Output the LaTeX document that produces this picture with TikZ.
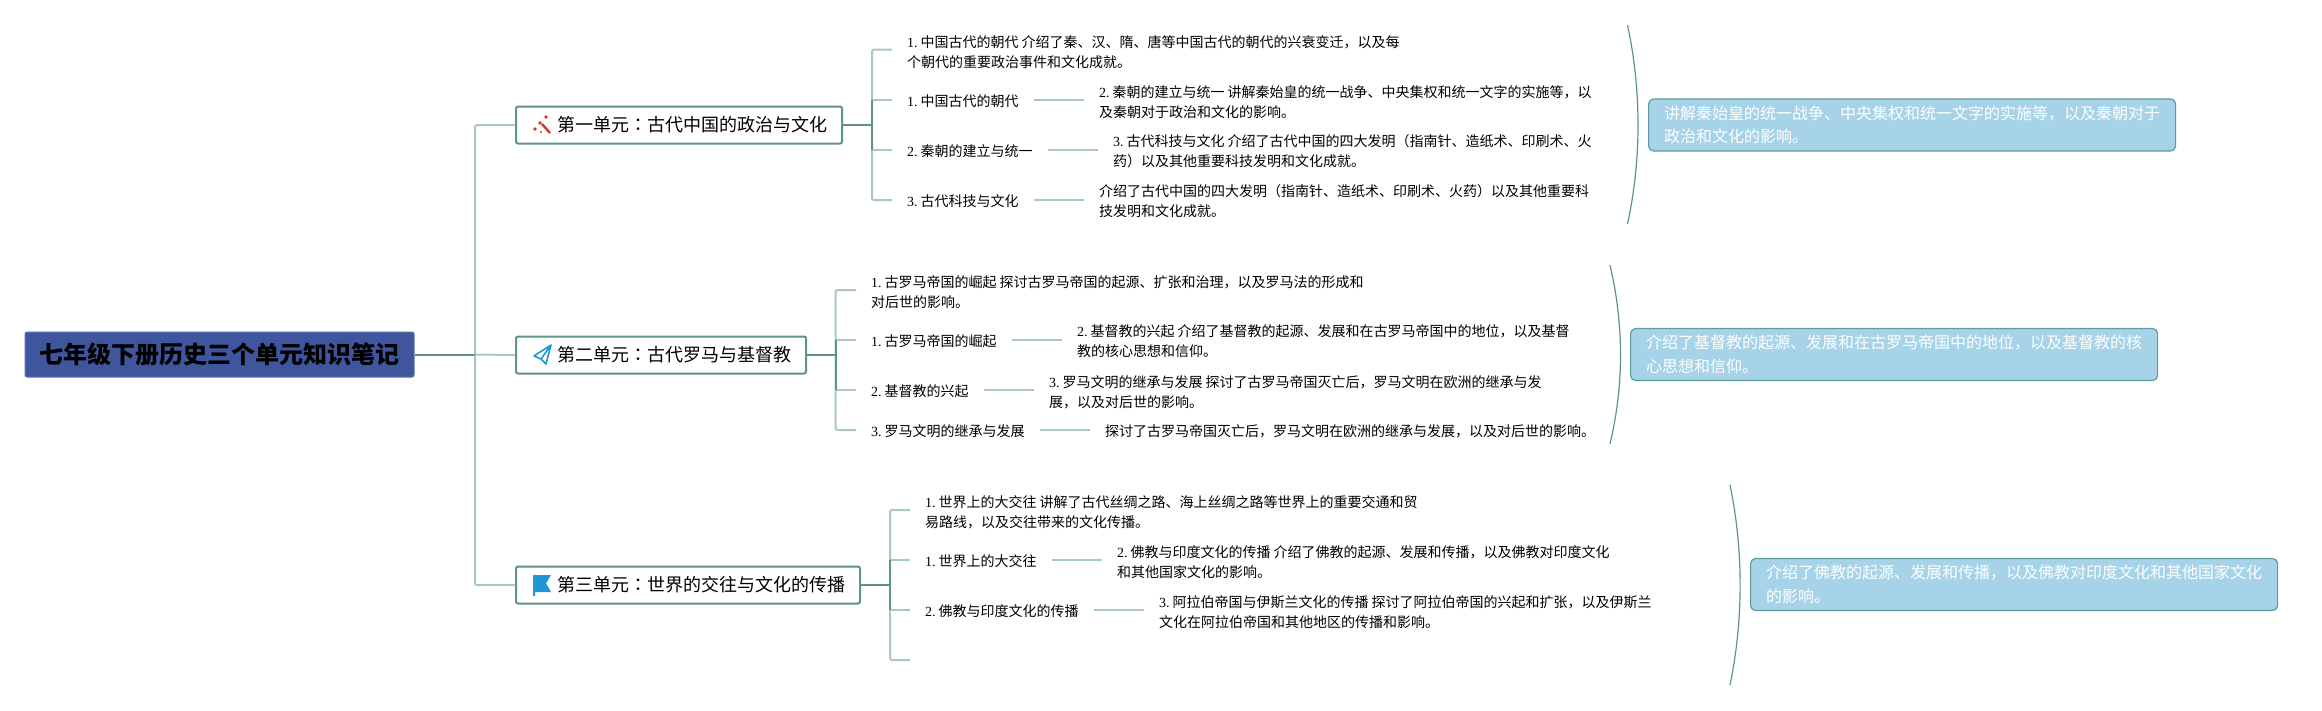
\documentclass[tikz,border=0pt]{standalone}
\usepackage{fontspec}
\setmainfont{Noto Sans CJK SC}
\newfontfamily\tcfont{Noto Sans CJK TC}
\newfontfamily\numfont{Liberation Serif}
\usetikzlibrary{positioning,calc}
\definecolor{hsline}    {HTML}{5F9485}
\definecolor{hslightline}{HTML}{A9C8BF}
\definecolor{hsnavy}    {HTML}{3F569E}
\definecolor{hssky}     {HTML}{A6D3E8}
\definecolor{hsskyedge} {HTML}{5F9A9C}
\definecolor{hsred}     {HTML}{D8322C}
\definecolor{hsblue}    {HTML}{1E96D8}
\newcommand{\ucolon}{{\tcfont ：}}
\newcommand{\hsnum}[1]{{\numfont #1.\hspace{2.8pt}}}
\tikzset{
  hsroot/.style={draw=hsnavy!85!white, fill=hsnavy, rounded corners=2pt, line width=1pt,
                 minimum width=389pt, minimum height=45pt, inner sep=0pt,
                 font=\fontsize{24}{28}\selectfont\bfseries},
  hsunit/.style={draw=hsline, fill=white, rounded corners=2pt, line width=2pt, anchor=west,
                 minimum height=37pt, inner xsep=15pt, inner ysep=0pt,
                 font=\fontsize{18}{22}\selectfont},
  hsleaf/.style={anchor=west, inner xsep=15pt, inner ysep=0pt, align=left,
                 font=\fontsize{14}{20}\selectfont, text=black},
  hslabel/.style={anchor=west, inner xsep=15pt, inner ysep=0pt,
                  text height=13pt, text depth=0.4pt,
                  font=\fontsize{14}{20}\selectfont, text=black},
  hssummary/.style={draw=hsskyedge, fill=hssky, rounded corners=5pt, line width=1.2pt, anchor=west,
                    minimum width=527pt, minimum height=52pt, inner xsep=15.5pt, inner ysep=0pt,
                    text width=496pt, align=left, text=white,
                    font=\fontsize{16}{23.5}\selectfont},
  hsedge/.style={draw=hsline, line width=2pt, rounded corners=2pt},
  hslight/.style={draw=hslightline, line width=2pt, rounded corners=2pt},
  hsbrace/.style={draw=hsline, line width=1.2pt},
}
\begin{document}
\begin{tikzpicture}[x=1pt,y=-1pt]
  \useasboundingbox (0,0) rectangle (2322,710);

  \node[hsroot] (root) at (219.5,354.5) {七年级下册历史三个单元知识笔记};
  \node[hsunit] (u1) at (515,125) {\hspace{26pt}第一单元\ucolon 古代中国的政治与文化};
  \node[hsunit] (u2) at (515,355) {\hspace{26pt}第二单元\ucolon 古代罗马与基督教};
  \node[hsunit] (u3) at (515,585) {\hspace{26pt}第三单元\ucolon 世界的交往与文化的传播};

  % trunk
  \coordinate (tr) at (475,354.5);
  \draw[hslight] (tr) |- (u1.west);
  \draw[hslight] (tr) |- (u3.west);
  \draw[hslight] (tr) -- (u2.west);
  \draw[hsedge] (root.east) -- (tr);

  % unit 1
  \node[hsleaf] (a1) at (892,52) {\hsnum{1}中国古代的朝代 介绍了秦、汉、隋、唐等中国古代的朝代的兴衰变迁，以及每\\个朝代的重要政治事件和文化成就。};
  \node[hslabel] (a2) at (892,100) {\hsnum{1}中国古代的朝代};
  \node[hslabel] (a3) at (892,150) {\hsnum{2}秦朝的建立与统一};
  \node[hslabel] (a4) at (892,200) {\hsnum{3}古代科技与文化};
  \node[hsleaf] (a5) at (1084,102) {\hsnum{2}秦朝的建立与统一 讲解秦始皇的统一战争、中央集权和统一文字的实施等，以\\及秦朝对于政治和文化的影响。};
  \node[hsleaf] (a6) at (1098,151.5) {\hsnum{3}古代科技与文化 介绍了古代中国的四大发明（指南针、造纸术、印刷术、火\\药）以及其他重要科技发明和文化成就。};
  \node[hsleaf] (a7) at (1084,201.5) {介绍了古代中国的四大发明（指南针、造纸术、印刷术、火药）以及其他重要科\\技发明和文化成就。};
  \coordinate (a0) at (892,49.5);
  \coordinate (ab) at (872,125);
  \draw[hslight] (ab) |- (a0);
  \draw[hslight] (ab) |- (a4.west);
  \draw[hslight] (ab |- a2.west) -- (a2.west);
  \draw[hslight] (ab |- a3.west) -- (a3.west);
  \draw[hsedge] (ab |- a2.west) -- (ab |- a3.west);
  \draw[hsedge] (u1.east) -- (ab);
  \draw[hslight] (a2.east) -- (a2.east -| a5.west);
  \draw[hslight] (a3.east) -- (a3.east -| a6.west);
  \draw[hslight] (a4.east) -- (a4.east -| a7.west);

  % unit 2
  \node[hsleaf] (b1) at (856,292) {\hsnum{1}古罗马帝国的崛起 探讨古罗马帝国的起源、扩张和治理，以及罗马法的形成和\\对后世的影响。};
  \node[hslabel] (b2) at (856,340) {\hsnum{1}古罗马帝国的崛起};
  \node[hslabel] (b3) at (856,390) {\hsnum{2}基督教的兴起};
  \node[hslabel] (b4) at (856,430) {\hsnum{3}罗马文明的继承与发展};
  \node[hsleaf] (b5) at (1062,341.5) {\hsnum{2}基督教的兴起 介绍了基督教的起源、发展和在古罗马帝国中的地位，以及基督\\教的核心思想和信仰。};
  \node[hsleaf] (b6) at (1034,392) {\hsnum{3}罗马文明的继承与发展 探讨了古罗马帝国灭亡后，罗马文明在欧洲的继承与发\\展，以及对后世的影响。};
  \node[hslabel] (b7) at (1090,430) {探讨了古罗马帝国灭亡后，罗马文明在欧洲的继承与发展，以及对后世的影响。};
  \coordinate (b0) at (856,290);
  \coordinate (bb) at (835.5,355);
  \draw[hslight] (bb) |- (b0);
  \draw[hslight] (bb) |- (b4.west);
  \draw[hslight] (bb |- b2.west) -- (b2.west);
  \draw[hslight] (bb |- b3.west) -- (b3.west);
  \draw[hsedge] (bb |- b2.west) -- (bb |- b3.west);
  \draw[hsedge] (u2.east) -- (bb);
  \draw[hslight] (b2.east) -- (b2.east -| b5.west);
  \draw[hslight] (b3.east) -- (b3.east -| b6.west);
  \draw[hslight] (b4.east) -- (b4.east -| b7.west);

  % unit 3
  \node[hsleaf] (c1) at (910,512) {\hsnum{1}世界上的大交往 讲解了古代丝绸之路、海上丝绸之路等世界上的重要交通和贸\\易路线，以及交往带来的文化传播。};
  \node[hslabel] (c2) at (910,560) {\hsnum{1}世界上的大交往};
  \node[hslabel] (c3) at (910,610) {\hsnum{2}佛教与印度文化的传播};
  \node[hsleaf] (c5) at (1102,562) {\hsnum{2}佛教与印度文化的传播 介绍了佛教的起源、发展和传播，以及佛教对印度文化\\和其他国家文化的影响。};
  \node[hsleaf] (c6) at (1144,612.5) {\hsnum{3}阿拉伯帝国与伊斯兰文化的传播 探讨了阿拉伯帝国的兴起和扩张，以及伊斯兰\\文化在阿拉伯帝国和其他地区的传播和影响。};
  \coordinate (c0) at (910,510);
  \coordinate (c4) at (910,660);
  \coordinate (cb) at (890,585);
  \draw[hslight] (cb) |- (c0);
  \draw[hslight] (cb) |- (c4);
  \draw[hslight] (cb |- c2.west) -- (c2.west);
  \draw[hslight] (cb |- c3.west) -- (c3.west);
  \draw[hsedge] (cb |- c2.west) -- (cb |- c3.west);
  \draw[hsedge] (u3.east) -- (cb);
  \draw[hslight] (c2.east) -- (c2.east -| c5.west);
  \draw[hslight] (c3.east) -- (c3.east -| c6.west);

  % summaries
  \node[hssummary] (s1) at (1648,125) {讲解秦始皇的统一战争、中央集权和统一文字的实施等，以及秦朝对于\\政治和文化的影响。};
  \node[hssummary] (s2) at (1630,354.5) {介绍了基督教的起源、发展和在古罗马帝国中的地位，以及基督教的核\\心思想和信仰。};
  \node[hssummary] (s3) at (1750,584.5) {介绍了佛教的起源、发展和传播，以及佛教对印度文化和其他国家文化\\的影响。};
  \coordinate (s1t) at (1627.5,25);
  \coordinate (s1b) at (1627.5,224);
  \coordinate (s2t) at (1610,265);
  \coordinate (s2b) at (1610,444);
  \coordinate (s3t) at (1730,485);
  \coordinate (s3b) at (1730,685);
  \draw[hsbrace] (s1t) .. controls (1641.5,90) and (1641.5,160) .. (s1b);
  \draw[hsbrace] (s2t) .. controls (1624,325) and (1624,385) .. (s2b);
  \draw[hsbrace] (s3t) .. controls (1743.5,550) and (1743.5,620) .. (s3b);

  % icons
  \draw[hsred,line width=2.4pt] (542,124) -- (550,133);
  \fill[hsred] (546,117) circle (1.8) (540,123) circle (1.8) (535,129) circle (1.8) (541,132) circle (1.2);
  \draw[hsblue,line width=1.6pt,line join=round] (551,345) -- (534,356) -- (541,359) -- (546,364) -- cycle (541,359) -- (551,345);
  \fill[hsblue] (533,575) -- (551,575) -- (546,583.5) -- (551,592) -- (535,592) -- (535,596) -- (533,596) -- cycle;
\end{tikzpicture}
\end{document}
